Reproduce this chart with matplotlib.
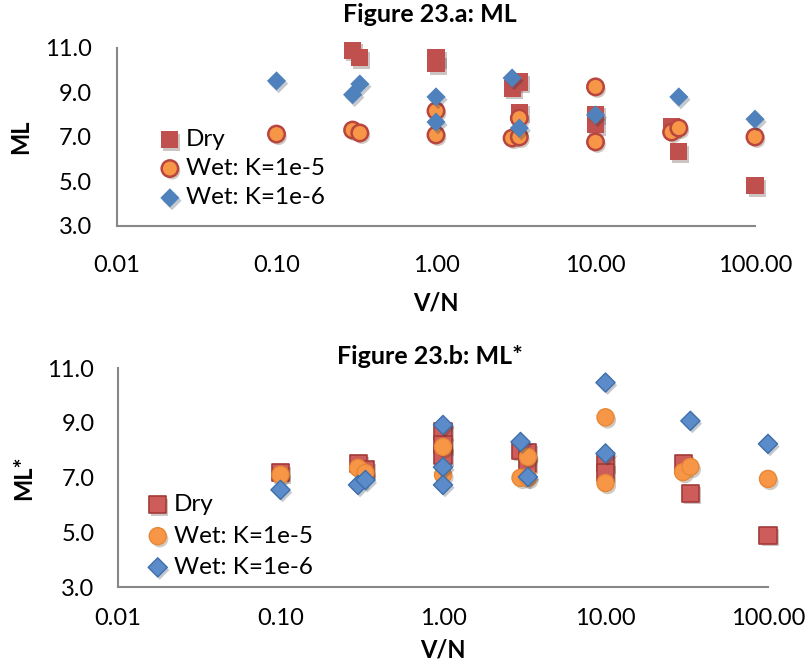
import matplotlib
matplotlib.use("Agg")
import matplotlib.pyplot as plt
import matplotlib.patheffects as pe

plt.rcParams['font.family'] = ['Lato', 'DejaVu Sans']

# Figure 23.a: ML
a_dry_x = [0.3, 0.333, 1, 1, 3, 3.33, 3.33, 10, 10, 30, 33.3, 100]
a_dry_y = [10.9, 10.55, 10.55, 10.3, 9.2, 9.47, 8.12, 8.03, 7.54, 7.45, 6.33, 4.8]
a_k5_x = [0.1, 0.3, 0.333, 1, 1, 3, 3.33, 3.33, 10, 10, 30, 33.3, 100]
a_k5_y = [7.13, 7.31, 7.18, 8.17, 7.09, 6.95, 7.85, 7.0, 9.25, 6.78, 7.22, 7.4, 7.0]
a_k6_x = [0.1, 0.3, 0.333, 1, 1, 3, 3.33, 10, 33.3, 100]
a_k6_y = [9.52, 8.9, 9.38, 8.8, 7.67, 9.65, 7.4, 7.99, 8.8, 7.8]

# Figure 23.b: ML*
b_dry_x = [0.1, 0.3, 0.333, 1, 1, 1, 3, 3.33, 3.33, 10, 10, 30, 33.3, 100]
b_dry_y = [7.17, 7.53, 7.28, 8.7, 8.2, 7.8, 8.0, 7.93, 7.53, 7.55, 7.2, 7.53, 6.43, 4.9]
b_k5_x = [0.1, 0.3, 0.333, 1, 1, 3, 3.33, 3.33, 10, 10, 30, 33.3, 100]
b_k5_y = [7.1, 7.35, 7.17, 8.12, 7.1, 6.99, 7.75, 6.99, 9.2, 6.8, 7.2, 7.39, 6.95]
b_k6_x = [0.1, 0.3, 0.333, 1, 1, 1, 3, 3.33, 10, 10, 33.3, 100]
b_k6_y = [6.55, 6.73, 6.91, 8.92, 7.38, 6.73, 8.3, 7.02, 10.47, 7.88, 9.07, 8.23]

labels = ["Dry", "Wet: K=1e-5", "Wet: K=1e-6"]
xticks = [0.01, 0.1, 1, 10, 100]
xticklabels = ["0.01", "0.10", "1.00", "10.00", "100.00"]
yticks = [3, 5, 7, 9, 11]

shadow = [pe.SimplePatchShadow(offset=(1.5, -2), alpha=0.25), pe.Normal()]

fig = plt.figure(figsize=(8.08, 6.67), dpi=100)
ax1 = fig.add_axes([117 / 808, 0.6612, 638 / 808, 0.2669])
ax2 = fig.add_axes([118 / 808, 0.1199, 650 / 808, 0.3283])

# top chart: flat markers
ax1.scatter(a_dry_x, a_dry_y, marker='s', s=150, c='#C0504D', lw=0, label=labels[0],
            path_effects=shadow, zorder=3, clip_on=False)
ax1.scatter(a_k5_x, a_k5_y, marker='o', s=140, c='#F79646', edgecolors='#B8453F', lw=1.8, label=labels[1],
            path_effects=shadow, zorder=3, clip_on=False)
ax1.scatter(a_k6_x, a_k6_y, marker='D', s=95, c='#4F81BD', lw=0, label=labels[2],
            path_effects=shadow, zorder=3, clip_on=False)

# bottom chart: outlined markers
ax2.scatter(b_dry_x, b_dry_y, marker='s', s=150, c='#CD5C5A', edgecolors='#A23B38', lw=1.2, label=labels[0],
            path_effects=shadow, zorder=3, clip_on=False)
ax2.scatter(b_k5_x, b_k5_y, marker='o', s=150, c='#F79646', edgecolors='#E88734', lw=1.0, label=labels[1],
            path_effects=shadow, zorder=3, clip_on=False)
ax2.scatter(b_k6_x, b_k6_y, marker='D', s=95, c='#5B8BC9', edgecolors='#3F6FAA', lw=1.0, label=labels[2],
            path_effects=shadow, zorder=3, clip_on=False)

for ax, ylab in [(ax1, "ML"), (ax2, "ML*")]:
    ax.set_xscale('log')
    ax.set_xlim(0.01, 100)
    ax.set_ylim(3, 11)
    ax.set_xticks(xticks)
    ax.set_xticklabels(xticklabels)
    ax.minorticks_off()
    ax.set_yticks(yticks)
    ax.set_yticklabels(["%.1f" % v for v in yticks])
    ax.tick_params(length=0, labelsize=17, colors='black')
    for s in ['top', 'right']:
        ax.spines[s].set_visible(False)
    for s in ['left', 'bottom']:
        ax.spines[s].set_color('#888888')
        ax.spines[s].set_linewidth(1.5)
    ax.set_ylabel(ylab, fontsize=17, fontweight='bold', labelpad=9)

ax1.tick_params(axis='y', pad=18)
ax1.tick_params(axis='x', pad=21)
ax2.tick_params(axis='y', pad=17)
ax2.tick_params(axis='x', pad=15)
ax1.set_xlabel("V/N", fontsize=17, fontweight='bold', labelpad=11)
ax2.set_xlabel("V/N", fontsize=17, fontweight='bold', labelpad=7)

fig.text(430 / 808, 1 - 15 / 667, "Figure 23.a: ML", fontsize=18, fontweight='bold', ha='center', va='center')
fig.text(430 / 808, 1 - 357 / 667, "Figure 23.b: ML*", fontsize=18, fontweight='bold', ha='center', va='center')

ax1.legend(loc='upper left', bbox_to_anchor=(0.041, 0.615), frameon=False, fontsize=17.5,
           handletextpad=0.05, labelspacing=0.34, borderpad=0, handlelength=1.2)
ax2.legend(loc='upper left', bbox_to_anchor=(0.02, 0.479), frameon=False, fontsize=17.5,
           handletextpad=0.05, labelspacing=0.42, borderpad=0, handlelength=1.2)

fig.savefig("out.png", dpi=100)
